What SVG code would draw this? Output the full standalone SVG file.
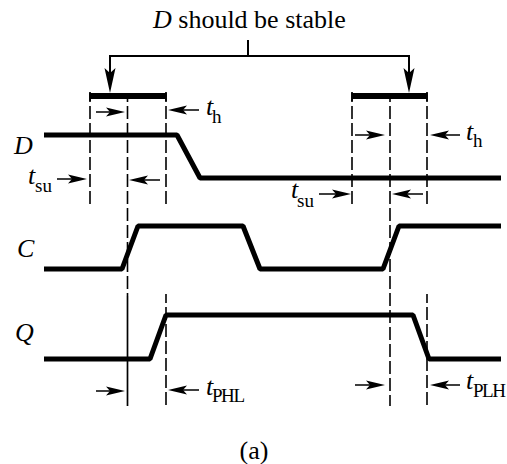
<svg xmlns="http://www.w3.org/2000/svg" width="507" height="464" viewBox="0 0 507 464">
<style>
.sig{fill:none;stroke:#000;stroke-width:5;stroke-linejoin:bevel}
.bar{fill:none;stroke:#000;stroke-width:6}
.dash{fill:none;stroke:#000;stroke-width:1.6;stroke-dasharray:13 4;stroke-dashoffset:4}
.thin{fill:none;stroke:#000;stroke-width:1.7}
.leader{fill:none;stroke:#000;stroke-width:2}
text{font-family:"Liberation Serif","Times New Roman",serif;fill:#000}
.t{font-size:26px}
.i{font-size:26px;font-style:italic}
.s{font-size:19px}
</style>
<g id="connectors">
<path class="leader" d="M248 40V56M110 80V56H409V80"/>
<path d="M104.500 68L110 93L115.500 68L110 73Z"/>
<path d="M403.500 68L409 93L414.500 68L409 73Z"/>
<g id="dashed">
<path class="dash" d="M90 93V204M166 93V204M352 93V204M427 93V204M127.500 93V296M390 93V406M166 294V405M427 294V405"/>
<path class="thin" d="M127.500 296V406"/>
</g>
<g id="dims">
<path class="thin" d="M96 112H115M199 110H176M57 179H78M160 180H136M355 135H376M460 135H438M319 194H341M423 194H400M96 391H116M199 390H176M355 385H376M460 385H438"/>
<path d="M106 107.500L125 112L106 116.500L110 112Z"/>
<path d="M187 105.500L168 110L187 114.500L183 110Z"/>
<path d="M68 174.500L87 179L68 183.500L72 179Z"/>
<path d="M148 175.500L129 180L148 184.500L144 180Z"/>
<path d="M366 130.500L385 135L366 139.500L370 135Z"/>
<path d="M449 130.500L430 135L449 139.500L445 135Z"/>
<path d="M332 189.500L351 194L332 198.500L336 194Z"/>
<path d="M411 189.500L392 194L411 198.500L407 194Z"/>
<path d="M106 386.500L125 391L106 395.500L110 391Z"/>
<path d="M187 385.500L168 390L187 394.500L183 390Z"/>
<path d="M366 380.500L385 385L366 389.500L370 385Z"/>
<path d="M449 380.500L430 385L449 389.500L445 385Z"/>
</g>
</g>
<g id="bars">
<path class="bar" d="M90 96H166M352 96H427"/>
<path class="thin" d="M90 92V101M166 92V101M352 92V101M427 92V101"/>
</g>
<g id="signal-D"><path class="sig" d="M44 135H177L200 178H501"/><text class="i" x="14" y="154">D</text></g>
<g id="signal-C"><path class="sig" d="M44 269H122L138 226H243L260 269H383L399 226H501"/><text class="i" x="17" y="257">C</text></g>
<g id="signal-Q"><path class="sig" d="M44 359H150L166 315H413L429 359H501"/><text class="i" x="15" y="341">Q</text></g>
<g id="labels">
<text class="t" x="153" y="28"><tspan class="i">D</tspan> should be stable</text>
<text class="i" x="206" y="115">t</text><text class="s" x="212" y="123">h</text>
<text class="i" x="466" y="140">t</text><text class="s" x="473" y="147">h</text>
<text class="i" x="28" y="184">t</text><text class="s" x="35" y="192">su</text>
<text class="i" x="291" y="198">t</text><text class="s" x="297" y="207">su</text>
<text class="i" x="206" y="395">t</text><text class="s" x="212" y="402" textLength="33">PHL</text>
<text class="i" x="466" y="389">t</text><text class="s" x="473" y="397" textLength="33">PLH</text>
<text class="t" x="254" y="459" text-anchor="middle">(a)</text>
</g>
</svg>
